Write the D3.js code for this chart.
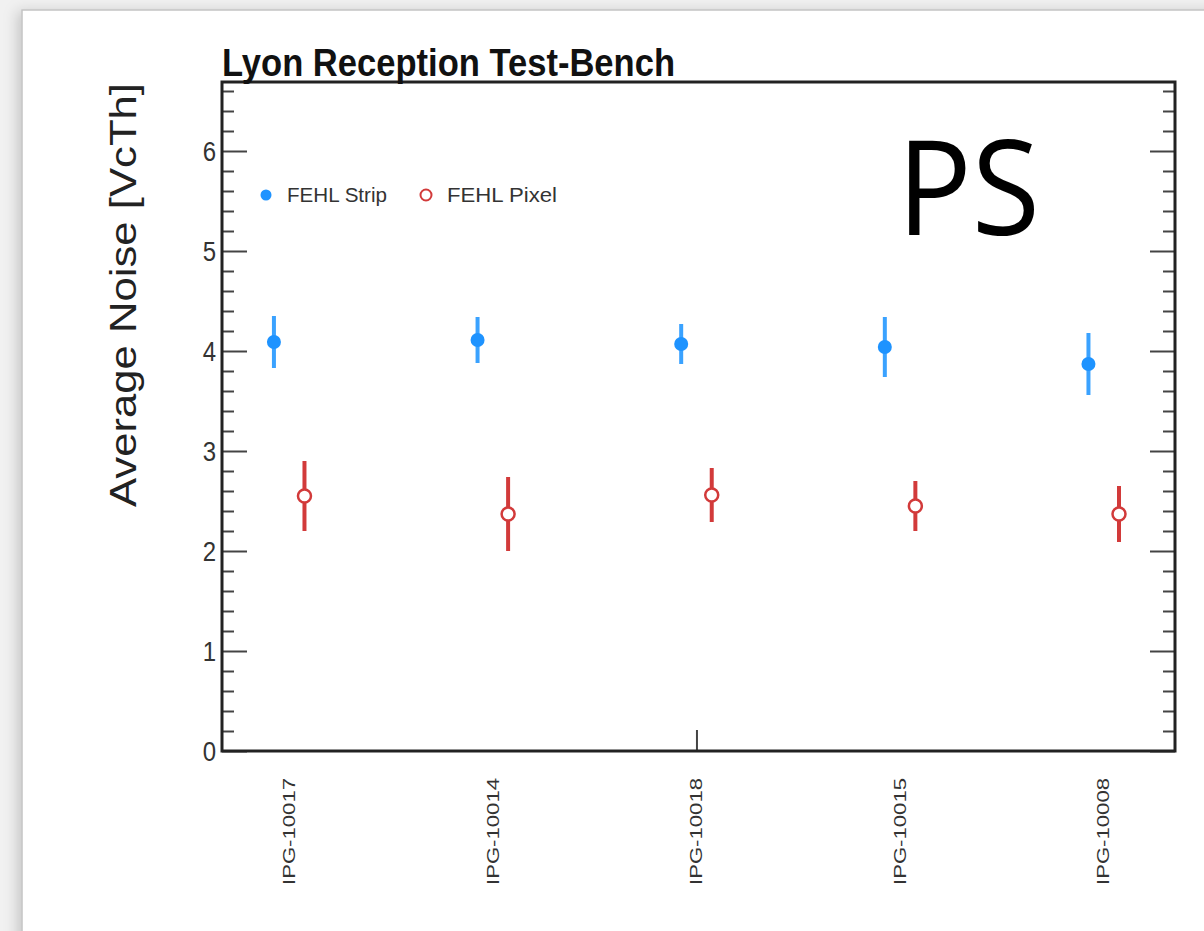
<!DOCTYPE html>
<html>
<head>
<meta charset="utf-8">
<script src="https://cdn.jsdelivr.net/npm/d3@7"></script>
<style>
  body { margin: 0; background: #f1f1f1; }
  svg { display: block; }
</style>
</head>
<body>
<div id="chart"></div>
<script>
// Average noise per module, Lyon reception test-bench

var modules = ["IPG-10017", "IPG-10014", "IPG-10018", "IPG-10015", "IPG-10008"];
var stripVals = [4.09, 4.11, 4.07, 4.04, 3.87];
var stripErr = [0.26, 0.23, 0.20, 0.30, 0.31];
var pixelVals = [2.55, 2.37, 2.56, 2.45, 2.37];
var pixelErr = [0.35, 0.37, 0.27, 0.25, 0.28];
var yTicks = [0, 1, 2, 3, 4, 5, 6];
var seriesNames = ["FEHL Strip", "FEHL Pixel"];

const width = 1204;
const height = 931;
const frame = { left: 222, right: 1175, top: 82, bottom: 751 };
const blue = "#1e93ff";
const red = "#d23a3a";

const svg = d3.select("#chart")
  .append("svg")
  .attr("width", width)
  .attr("height", height);

// shadowed white page
const defs = svg.append("defs");
const f = defs.append("filter").attr("id", "shadow")
  .attr("x", "-5%").attr("y", "-5%").attr("width", "110%").attr("height", "110%");
f.append("feDropShadow").attr("dx", -4).attr("dy", 2).attr("stdDeviation", 7)
  .attr("flood-color", "#000").attr("flood-opacity", 0.18);

svg.append("rect")
  .attr("x", 22).attr("y", 10)
  .attr("width", width + 20).attr("height", height + 20)
  .attr("fill", "#fff")
  .attr("stroke", "#c4c4c4")
  .attr("stroke-width", 1.5)
  .attr("filter", "url(#shadow)");

// scales
const x = d3.scaleLinear()
  .domain([-0.33, 4.35])
  .range([frame.left, frame.right]);

const y = d3.scaleLinear()
  .domain([0, 6.69])
  .range([frame.bottom, frame.top]);

const off = 0.075;

// minor + major ticks on left and right
const minor = d3.range(0, 6.61, 0.2).filter(v => Math.abs(v - Math.round(v)) > 0.01);

svg.append("g")
  .attr("transform", `translate(${frame.left},0)`)
  .call(d3.axisRight(y).tickValues(minor).tickSize(12).tickFormat(""))
  .call(g => g.select(".domain").remove())
  .call(g => g.selectAll("line").attr("stroke", "#444").attr("stroke-width", 2));

svg.append("g")
  .attr("transform", `translate(${frame.left},0)`)
  .call(d3.axisRight(y).tickValues(yTicks).tickSize(25).tickFormat(""))
  .call(g => g.select(".domain").remove())
  .call(g => g.selectAll("line").attr("stroke", "#444").attr("stroke-width", 2));

svg.append("g")
  .attr("transform", `translate(${frame.right},0)`)
  .call(d3.axisLeft(y).tickValues(minor).tickSize(12).tickFormat(""))
  .call(g => g.select(".domain").remove())
  .call(g => g.selectAll("line").attr("stroke", "#444").attr("stroke-width", 2));

svg.append("g")
  .attr("transform", `translate(${frame.right},0)`)
  .call(d3.axisLeft(y).tickValues(yTicks).tickSize(25).tickFormat(""))
  .call(g => g.select(".domain").remove())
  .call(g => g.selectAll("line").attr("stroke", "#444").attr("stroke-width", 2));

// y tick labels
svg.append("g").selectAll("text")
  .data(yTicks)
  .enter()
  .append("text")
  .attr("x", frame.left - 6)
  .attr("y", d => y(d))
  .attr("dy", "0.36em")
  .attr("text-anchor", "end")
  .attr("font-family", "Liberation Sans, Arial, sans-serif")
  .attr("font-size", 24)
  .attr("fill", "#333")
  .attr("transform", d => `translate(0,${y(d)}) scale(1,1.15) translate(0,${-y(d)})`)
  .text(d => d);

// single tick in the middle of the bottom axis
svg.append("g")
  .attr("transform", `translate(0,${frame.bottom})`)
  .call(d3.axisTop(x).tickValues([2]).tickSize(21).tickFormat(""))
  .call(g => g.select(".domain").remove())
  .call(g => g.selectAll("line").attr("stroke", "#444").attr("stroke-width", 2));

// x labels, vertical
svg.append("g").selectAll("text")
  .data(modules)
  .enter()
  .append("text")
  .attr("transform", (d, i) => `translate(${x(i)},${frame.bottom + 27}) rotate(-90)`)
  .attr("text-anchor", "end")
  .attr("dy", "0.36em")
  .attr("font-family", "Liberation Sans, Arial, sans-serif")
  .attr("font-size", 16)
  .attr("textLength", 107)
  .attr("lengthAdjust", "spacingAndGlyphs")
  .attr("fill", "#333")
  .text(d => d);

// frame
svg.append("rect")
  .attr("x", frame.left).attr("y", frame.top)
  .attr("width", frame.right - frame.left)
  .attr("height", frame.bottom - frame.top)
  .attr("fill", "none")
  .attr("stroke", "#222")
  .attr("stroke-width", 3);

// error bars + markers, strip
svg.append("g").selectAll("line")
  .data(stripVals)
  .enter()
  .append("line")
  .attr("x1", (d, i) => x(i - off))
  .attr("x2", (d, i) => x(i - off))
  .attr("y1", (d, i) => y(d + stripErr[i]))
  .attr("y2", (d, i) => y(d - stripErr[i]))
  .attr("stroke", "#3aa2ff")
  .attr("stroke-width", 4);

svg.append("g").selectAll("circle")
  .data(stripVals)
  .enter()
  .append("circle")
  .attr("cx", (d, i) => x(i - off))
  .attr("cy", d => y(d))
  .attr("r", 7)
  .attr("fill", blue);

// error bars + markers, pixel
const pg = svg.append("g");
pg.selectAll("line.up")
  .data(pixelVals)
  .enter()
  .append("line")
  .attr("class", "up")
  .attr("x1", (d, i) => x(i + off))
  .attr("x2", (d, i) => x(i + off))
  .attr("y1", (d, i) => y(d + pixelErr[i]))
  .attr("y2", d => y(d) - 7)
  .attr("stroke", red)
  .attr("stroke-width", 4);

pg.selectAll("line.down")
  .data(pixelVals)
  .enter()
  .append("line")
  .attr("class", "down")
  .attr("x1", (d, i) => x(i + off))
  .attr("x2", (d, i) => x(i + off))
  .attr("y1", d => y(d) + 7)
  .attr("y2", (d, i) => y(d - pixelErr[i]))
  .attr("stroke", red)
  .attr("stroke-width", 4);

pg.selectAll("circle")
  .data(pixelVals)
  .enter()
  .append("circle")
  .attr("cx", (d, i) => x(i + off))
  .attr("cy", d => y(d))
  .attr("r", 6.5)
  .attr("fill", "#fff")
  .attr("stroke", red)
  .attr("stroke-width", 2.5);

// legend
const legend = svg.append("g");
legend.append("circle").attr("cx", 266).attr("cy", 195).attr("r", 5.5).attr("fill", blue);
legend.append("circle").attr("cx", 426).attr("cy", 195).attr("r", 5.5)
  .attr("fill", "#fff").attr("stroke", red).attr("stroke-width", 2);
legend.selectAll("text")
  .data(seriesNames)
  .enter()
  .append("text")
  .attr("x", (d, i) => i == 0 ? 287 : 447)
  .attr("y", 202)
  .attr("font-family", "Liberation Sans, Arial, sans-serif")
  .attr("font-size", 21)
  .attr("textLength", (d, i) => i == 0 ? 100 : 110)
  .attr("lengthAdjust", "spacingAndGlyphs")
  .attr("fill", "#333")
  .text(d => d);

// title
svg.append("text")
  .attr("x", frame.left)
  .attr("y", 76)
  .attr("font-family", "Liberation Sans, Arial, sans-serif")
  .attr("font-weight", "bold")
  .attr("font-size", 38)
  .attr("textLength", 453)
  .attr("lengthAdjust", "spacingAndGlyphs")
  .attr("fill", "#111")
  .text("Lyon Reception Test-Bench");

// y axis title
svg.append("text")
  .attr("transform", "translate(136,295) rotate(-90)")
  .attr("text-anchor", "middle")
  .attr("font-family", "Liberation Sans, Arial, sans-serif")
  .attr("font-size", 36)
  .attr("textLength", 424)
  .attr("lengthAdjust", "spacingAndGlyphs")
  .attr("fill", "#222")
  .text("Average Noise [VcTh]");

// big PS label
svg.append("text")
  .attr("x", 897)
  .attr("y", 235)
  .attr("font-family", "Open Sans, sans-serif")
  .attr("font-size", 132)
  .attr("textLength", 143)
  .attr("lengthAdjust", "spacingAndGlyphs")
  .attr("fill", "#000")
  .text("PS");
</script>
</body>
</html>
